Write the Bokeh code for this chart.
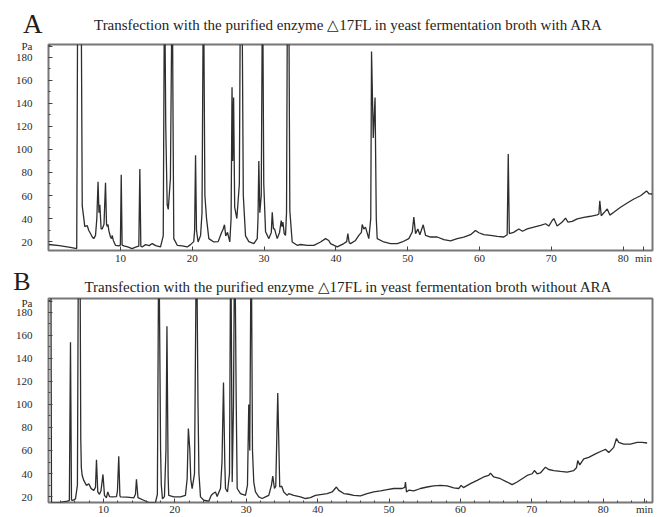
from bokeh.plotting import figure
from bokeh.models import Label, FixedTicker, Range1d
from bokeh.layouts import column
from bokeh.embed import file_html
from bokeh.resources import INLINE

SERIF = "Liberation Serif"

# ---------------- data (retention time in min, signal in Pa) ----------------
# Panel A: with ARA
a_time = [0.0, 1.5, 3.0, 3.9, 4.05, 4.5, 4.67, 4.89, 5.03, 5.36,
          5.58, 5.82, 6.06, 6.28, 6.52, 6.7, 6.87, 7.0, 7.12, 7.3,
          7.45, 7.7, 7.91, 8.05, 8.15, 8.25, 8.37, 8.6, 8.75, 8.84,
          9.0, 9.3, 9.76, 9.98, 10.1, 10.22, 10.46, 11.0, 11.6, 12.2,
          12.55, 12.69, 12.83, 13.02, 13.48, 14.0, 14.42, 14.9, 15.57, 15.95,
          16.13, 16.3, 16.5, 16.65, 16.95, 17.2, 17.32, 17.42, 17.9, 18.6,
          19.29, 19.75, 20.2, 20.32, 20.45, 20.58, 20.8, 21.15, 21.35, 21.55,
          21.75, 21.98, 22.3, 22.99, 23.6, 24.02, 24.3, 24.48, 24.65, 24.9,
          25.22, 25.4, 25.53, 25.63, 25.75, 25.9, 26.2, 26.55, 26.71, 26.9,
          27.1, 27.41, 27.87, 28.57, 29.04, 29.15, 29.26, 29.4, 29.6, 29.78,
          29.95, 30.2, 30.66, 31.0, 31.13, 31.3, 31.45, 31.82, 32.15, 32.38,
          32.5, 32.62, 32.8, 32.98, 33.12, 33.26, 33.42, 33.58, 33.91, 34.6,
          35.07, 36.0, 36.92, 37.86, 38.55, 39.0, 39.25, 40.18, 41.1, 41.5,
          41.66, 41.85, 42.03, 42.73, 43.19, 43.55, 43.66, 43.89, 44.12, 44.58,
          44.85, 44.96, 45.2, 45.45, 45.62, 45.75, 46.67, 47.6, 48.54, 49.23,
          50.15, 50.63, 50.85, 51.09, 51.41, 51.69, 52.16, 52.48, 53.18, 54.11,
          55.03, 55.96, 56.9, 57.81, 58.75, 59.44, 59.9, 60.6, 61.53, 62.47,
          63.38, 63.85, 64.0, 64.15, 64.74, 65.47, 65.99, 66.64, 67.56, 68.5,
          69.2, 69.65, 70.12, 70.35, 70.81, 71.52, 71.98, 72.3, 72.91, 73.61,
          74.53, 75.46, 76.39, 76.62, 76.75, 76.95, 77.32, 77.79, 78.15, 78.7,
          79.64, 80.57, 81.5, 82.43, 83.26, 83.6, 84.05]
a_signal = [17.5, 16.5, 15, 14, 260, 260, 51, 40, 33, 34,
            29.7, 27, 24, 22.6, 25.4, 40, 72, 45, 52, 31,
            31, 35, 71, 35, 33, 35, 29.7, 24, 22.6, 25.4,
            21, 16.8, 16.3, 17, 78, 17, 16.3, 15.4, 14, 15.4,
            16, 83, 16, 15.4, 17.4, 16.5, 18.3, 16.5, 15.4, 25,
            260, 120, 52, 48, 75, 260, 120, 22.6, 16.8, 16.3,
            15.4, 17.4, 20, 30, 95, 30, 19.7, 25.4, 45, 260,
            60, 40, 22.6, 19.7, 20, 27, 31, 34.6, 25, 28,
            19.7, 40, 154, 90, 145, 50, 40, 70, 260, 260,
            60, 25, 20, 18.3, 22.6, 40, 90, 45, 60, 260,
            70, 28.6, 22.6, 28, 45.5, 31, 31, 22.6, 28, 38.3,
            33, 37, 27, 25.4, 45, 260, 260, 47, 19.7, 16.8,
            17.5, 16.8, 16.8, 19.7, 22.6, 21, 18.3, 15.4, 18.3, 20,
            26.9, 19, 18.3, 21, 25.4, 28, 34.9, 31, 32.6, 22.6,
            40, 185, 110, 145, 40, 22.6, 19.7, 18.3, 18.3, 19.7,
            22.6, 28.3, 41.2, 26.9, 31, 26, 34.6, 25.4, 24, 24,
            21.7, 20.6, 22.6, 24, 26, 29.7, 27.7, 26, 25.4, 24.6,
            24, 26, 96, 27, 28, 31, 29, 31, 32.6, 34,
            35.5, 33.5, 38.3, 40, 33.5, 37, 40.4, 37, 37.6, 39.8,
            41, 42, 43.2, 44, 55.5, 42.5, 45, 48.4, 43, 45.5,
            49.8, 53.5, 57, 59.8, 64, 61.5, 61.3]

# Panel B: without ARA
b_time = [2.35, 2.62, 2.72, 3.04, 3.98, 4.92, 5.22, 5.38, 5.52, 5.76,
          6.08, 6.35, 6.5, 6.7, 6.82, 6.9, 7.02, 7.24, 7.62, 7.94,
          8.28, 8.64, 8.88, 9.02, 9.2, 9.44, 9.65, 9.93, 10.14, 10.42,
          10.6, 10.84, 11.22, 11.82, 11.96, 12.14, 12.3, 12.38, 13.32, 14.24,
          14.48, 14.62, 14.83, 15.64, 16.34, 17.28, 17.55, 17.75, 18.0, 18.1,
          18.26, 18.54, 18.75, 18.89, 19.06, 19.14, 19.85, 20.78, 21.48, 21.72,
          21.89, 22.09, 22.23, 22.42, 22.75, 23.03, 23.24, 23.37, 23.59, 24.05,
          24.75, 25.08, 25.36, 25.69, 25.92, 26.39, 26.6, 26.81, 26.99, 27.09,
          27.37, 27.65, 27.83, 28.03, 28.21, 28.38, 28.59, 28.73, 29.19, 29.89,
          30.17, 30.35, 30.49, 30.69, 30.87, 31.05, 31.29, 31.75, 32.23, 32.69,
          33.15, 33.53, 33.71, 33.95, 34.13, 34.41, 34.69, 34.97, 35.25, 35.73,
          35.95, 36.65, 37.59, 38.29, 38.99, 39.69, 40.39, 41.33, 42.03, 42.63,
          42.96, 43.66, 44.36, 45.06, 45.99, 46.93, 47.86, 48.8, 49.73, 50.66,
          51.83, 52.2, 52.3, 52.44, 52.76, 53.46, 54.4, 55.34, 56.26, 57.2,
          58.14, 59.06, 59.76, 60.1, 60.42, 61.4, 62.34, 63.26, 63.96, 64.2,
          64.66, 65.6, 66.54, 67.24, 67.94, 68.64, 69.34, 70.04, 70.36, 70.74,
          71.2, 71.9, 72.37, 73.07, 74.01, 74.94, 75.87, 76.25, 76.43, 76.71,
          77.27, 77.97, 78.91, 79.85, 80.31, 80.77, 81.47, 81.85, 82.17, 82.87,
          83.81, 84.75, 85.45, 86.15]
b_signal = [260, 260, 14.5, 14.8, 15, 16, 16.5, 154, 17, 16.8,
            18, 30, 260, 260, 70, 45, 38.3, 34, 29.7, 31.2,
            26.9, 25.4, 28, 52, 24, 22, 25, 39.2, 21, 19,
            24, 20, 19.7, 20, 25, 55, 21, 19.7, 19.5, 18.8,
            22, 35, 19, 16.8, 14.8, 14.8, 22, 260, 60, 30,
            18, 20, 60, 168, 37, 21, 19.7, 19.7, 21, 35.5,
            79, 61, 35, 26.9, 40, 260, 100, 40, 19.7, 16.8,
            16, 21, 22.6, 24, 20, 27, 50, 119, 50, 27,
            24, 40, 260, 32.6, 100, 260, 104, 27, 22.6, 21,
            30, 100, 60, 260, 60, 32.6, 24, 19.7, 18.3, 19.7,
            21, 30, 37.8, 27, 29, 110, 28.3, 29, 24, 21,
            22.6, 21, 19.7, 18.3, 19, 21, 21.7, 22.6, 24, 28.3,
            25.4, 22.6, 22, 21, 20.6, 22.6, 24, 24.9, 26, 27,
            27, 28, 32.6, 24, 25.5, 24.9, 27, 28.3, 29.2, 29.7,
            29.2, 27.5, 27, 29.7, 27.8, 31.2, 34, 37, 38.3, 40.4,
            37, 35.5, 32.6, 30.3, 32.6, 35.5, 38.3, 39.8, 42.6, 39.8,
            40.5, 45.5, 43.5, 42.6, 41.8, 41.2, 42.6, 45, 51.2, 47.5,
            52.7, 54, 57, 59.8, 61, 58.3, 62.7, 70.4, 67, 65.6,
            65.6, 67, 67, 66.5]

y_ticks = [20, 40, 60, 80, 100, 120, 140, 160, 180]
x_ticks = [10, 20, 30, 40, 50, 60, 70, 80]
title_a = "Transfection with  the purified enzyme \u25b317FL in yeast fermentation broth with ARA"
title_b = "Transfection with  the purified enzyme \u25b317FL in yeast fermentation broth without ARA"

W = 660
FRAME_W = 604  # plot frames are aligned in the column: 48 px left, 8 px right


def header(height, top, letter, letter_size, letter_standoff, title, tx, ty):
    h = figure(width=W, height=height, x_range=Range1d(0, FRAME_W),
               y_range=Range1d(0, height - top), x_axis_type=None,
               output_backend="svg", toolbar_location=None, title=None,
               min_border_left=48, min_border_right=8,
               min_border_top=top, min_border_bottom=0)
    h.outline_line_color = None
    h.xgrid.visible = False
    h.ygrid.visible = False
    ax = h.yaxis[0]
    ax.ticker = FixedTicker(ticks=[])
    ax.axis_line_color = None
    ax.major_tick_line_color = None
    ax.minor_tick_line_color = None
    ax.major_tick_out = 0
    ax.minor_tick_out = 0
    ax.major_label_text_font_size = "0px"
    ax.major_label_standoff = 0
    ax.axis_label = letter
    ax.axis_label_orientation = "horizontal"
    ax.axis_label_text_font = SERIF
    ax.axis_label_text_font_style = "normal"
    ax.axis_label_text_font_size = letter_size
    ax.axis_label_text_color = "#1e1e1e"
    ax.axis_label_standoff = letter_standoff
    h.add_layout(Label(x=tx, y=ty, text=title, text_font=SERIF, text_font_size="15px",
                       text_align="center", text_baseline="alphabetic", text_color="#1e1e1e"))
    return h


def panel(t, s, xr, yr, height, top, bottom, x_minor, pa_y, min_x, x_standoff):
    p = figure(width=W, height=height, x_range=Range1d(*xr), y_range=Range1d(*yr),
               output_backend="svg", toolbar_location=None, title=None,
               min_border_left=48, min_border_right=8,
               min_border_top=top, min_border_bottom=bottom)
    p.background_fill_color = "white"
    p.border_fill_color = "white"
    p.outline_line_color = "#777777"
    p.outline_line_width = 2
    p.xgrid.visible = False
    p.ygrid.visible = False
    p.line(t, s, line_color="#2e2e2e", line_width=1.3)

    for ax in (p.xaxis[0], p.yaxis[0]):
        ax.axis_line_color = None
        ax.major_tick_out = 0
        ax.minor_tick_out = 0
        ax.major_tick_in = 4
        ax.minor_tick_in = 2
        ax.major_tick_line_color = "#444444"
        ax.minor_tick_line_color = "#444444"
        ax.major_label_text_font = SERIF
        ax.major_label_text_font_size = "11px"
        ax.major_label_text_color = "#2a2a2a"
    # unit captions ("Pa", "min") are carried as extra labelled ticks
    p.yaxis.ticker = FixedTicker(ticks=y_ticks + [pa_y], minor_ticks=list(range(10, 200, 10)))
    p.yaxis.major_label_overrides = {pa_y: "Pa"}
    p.yaxis.major_label_standoff = 16
    p.xaxis.ticker = FixedTicker(ticks=x_ticks + [min_x], minor_ticks=x_minor)
    p.xaxis.major_label_overrides = {min_x: "min"}
    p.xaxis.major_label_standoff = x_standoff
    return p


ha = header(38, 8, "A", "27px", 6, title_a, 302, 13.7)
pa = panel(a_time, a_signal, (-0.03, 84.09), (12.3, 191.0), 228, 6, 14, [],
           189.3, 82.84, 1)
hb = header(30, 0, "B", "26px", 18, title_b, 302, 9.1)
pb = panel(b_time, b_signal, (2.3, 86.9), (14.84, 192.0), 221, 2, 13,
           [v for v in range(4, 88, 2) if v % 10], 189.4, 85.77, 0)

layout = column(ha, pa, hb, pb)
open("out.html", "w").write(file_html(layout, INLINE))
